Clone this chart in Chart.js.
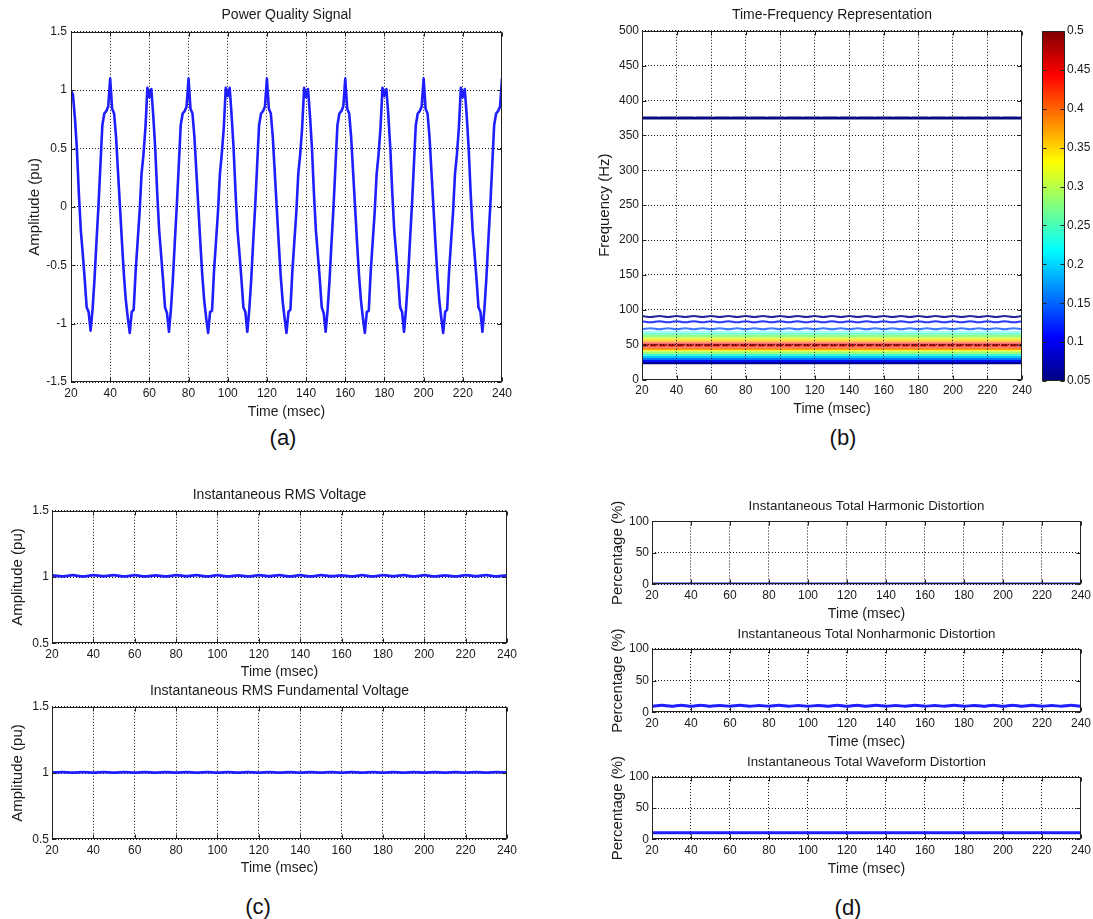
<!DOCTYPE html>
<html>
<head>
<meta charset="utf-8">
<script src="https://cdn.jsdelivr.net/npm/chart.js@4.4.1/dist/chart.umd.min.js"></script>
<style>
  html, body { margin: 0; padding: 0; background: #fff; }
  #fig { position: relative; width: 1093px; height: 919px; overflow: hidden; }
  .box { position: absolute; left: 0; top: 0; width: 500px; height: 400px; }
  .lab { position: absolute; font: 22px 'Liberation Sans', Arial, sans-serif; color: #111; transform: translate(-50%, -50%); }
</style>
</head>
<body>
<div id="fig">
  <div class="box" id="boxA"><canvas id="chartA"></canvas></div>
  <div class="box" id="boxB"><canvas id="chartB"></canvas></div>
  <div class="box" id="boxBar"><canvas id="chartBar"></canvas></div>
  <div class="box" id="boxC1"><canvas id="chartC1"></canvas></div>
  <div class="box" id="boxC2"><canvas id="chartC2"></canvas></div>
  <div class="box" id="boxD1"><canvas id="chartD1"></canvas></div>
  <div class="box" id="boxD2"><canvas id="chartD2"></canvas></div>
  <div class="box" id="boxD3"><canvas id="chartD3"></canvas></div>
  <div class="lab" style="left:283px;top:438px">(a)</div>
  <div class="lab" style="left:843px;top:438px">(b)</div>
  <div class="lab" style="left:258px;top:907px">(c)</div>
  <div class="lab" style="left:848px;top:908px">(d)</div>
</div>
<script>
// ---- data -------------------------------------------------------------

// (a) power quality signal, 1 ms steps
const timeMs = [
  20,21,22,23,24,25,26,27,28,29,30,31,32,33,34,35,36,37,38,39,
  40,41,42,43,44,45,46,47,48,49,50,51,52,53,54,55,56,57,58,59,
  60,61,62,63,64,65,66,67,68,69,70,71,72,73,74,75,76,77,78,79,
  80,81,82,83,84,85,86,87,88,89,90,91,92,93,94,95,96,97,98,99,
  100,101,102,103,104,105,106,107,108,109,110,111,112,113,114,115,116,117,118,119,
  120,121,122,123,124,125,126,127,128,129,130,131,132,133,134,135,136,137,138,139,
  140,141,142,143,144,145,146,147,148,149,150,151,152,153,154,155,156,157,158,159,
  160,161,162,163,164,165,166,167,168,169,170,171,172,173,174,175,176,177,178,179,
  180,181,182,183,184,185,186,187,188,189,190,191,192,193,194,195,196,197,198,199,
  200,201,202,203,204,205,206,207,208,209,210,211,212,213,214,215,216,217,218,219,
  220,221,222,223,224,225,226,227,228,229,230,231,232,233,234,235,236,237,238,239,
  240
];
const signalPu = [
  1.0,0.96,0.76,0.5,0.12,-0.2,-0.4,-0.62,-0.86,-0.9,-1.06,-0.88,-0.62,-0.3,0.0,0.35,0.7,0.8,0.82,0.86,
  1.1,0.84,0.8,0.6,0.3,0.0,-0.3,-0.58,-0.8,-0.95,-1.08,-0.9,-0.88,-0.55,-0.3,-0.05,0.28,0.45,0.68,1.02,
  0.94,1.01,0.78,0.5,0.12,-0.2,-0.41,-0.63,-0.86,-0.91,-1.07,-0.88,-0.62,-0.3,0.01,0.35,0.7,0.8,0.82,0.86,
  1.1,0.84,0.8,0.6,0.3,0.0,-0.3,-0.58,-0.8,-0.95,-1.08,-0.9,-0.89,-0.55,-0.3,-0.05,0.28,0.46,0.68,1.02,
  0.95,1.02,0.78,0.5,0.12,-0.2,-0.4,-0.62,-0.86,-0.9,-1.07,-0.88,-0.62,-0.3,0.0,0.35,0.7,0.8,0.82,0.86,
  1.1,0.84,0.8,0.6,0.3,0.0,-0.3,-0.58,-0.8,-0.95,-1.08,-0.9,-0.88,-0.55,-0.3,-0.05,0.28,0.45,0.68,1.02,
  0.94,1.01,0.78,0.5,0.12,-0.2,-0.41,-0.62,-0.86,-0.91,-1.07,-0.88,-0.62,-0.3,0.0,0.35,0.7,0.8,0.82,0.86,
  1.1,0.84,0.8,0.6,0.3,0.0,-0.3,-0.58,-0.8,-0.95,-1.08,-0.9,-0.89,-0.55,-0.3,-0.05,0.28,0.45,0.68,1.02,
  0.95,1.01,0.78,0.5,0.12,-0.2,-0.4,-0.62,-0.86,-0.9,-1.07,-0.88,-0.62,-0.3,0.0,0.35,0.7,0.8,0.82,0.86,
  1.1,0.84,0.8,0.6,0.3,0.0,-0.3,-0.58,-0.8,-0.95,-1.08,-0.9,-0.88,-0.55,-0.3,-0.05,0.28,0.45,0.68,1.02,
  0.94,1.01,0.78,0.5,0.12,-0.2,-0.4,-0.62,-0.86,-0.9,-1.07,-0.88,-0.62,-0.3,0.0,0.35,0.7,0.8,0.82,0.86,
  1.1
];

// (b)(c)(d) 5 ms steps
const time5 = [20,25,30,35,40,45,50,55,60,65,70,75,80,85,90,95,100,105,110,115,120,125,130,135,140,
  145,150,155,160,165,170,175,180,185,190,195,200,205,210,215,220,225,230,235,240];

// (b) time-frequency: filled band edges (Hz) and contour lines
const bandEdgesHz = [22, 25, 28, 31, 34, 37, 40, 42, 44, 46, 53, 55, 58, 61, 64, 67, 70];
const peakLineHz = [49,49,49,49,49,49,49,49,49,49,49,49,49,49,49,49,49,49,49,49,49,49,49,
  49,49,49,49,49,49,49,49,49,49,49,49,49,49,49,49,49,49,49,49,49,49];
const contour72 = [72,73.4,72,73.4,72,73.4,72,73.4,72,73.4,72,73.4,72,73.4,72,73.4,72,73.4,72,73.4,72,73.4,72,
  73.4,72,73.4,72,73.4,72,73.4,72,73.4,72,73.4,72,73.4,72,73.4,72,73.4,72,73.4,72,73.4,72];
const contour82 = [83.5,82,83.5,82,83.5,82,83.5,82,83.5,82,83.5,82,83.5,82,83.5,82,83.5,82,83.5,82,83.5,82,83.5,
  82,83.5,82,83.5,82,83.5,82,83.5,82,83.5,82,83.5,82,83.5,82,83.5,82,83.5,82,83.5,82,83.5];
const contour91 = [91,89.6,91,89.6,91,89.6,91,89.6,91,89.6,91,89.6,91,89.6,91,89.6,91,89.6,91,89.6,91,89.6,91,
  89.6,91,89.6,91,89.6,91,89.6,91,89.6,91,89.6,91,89.6,91,89.6,91,89.6,91,89.6,91,89.6,91];
const contour375 = [375,375,375,375,375,375,375,375,375,375,375,375,375,375,375,375,375,375,375,375,375,375,375,
  375,375,375,375,375,375,375,375,375,375,375,375,375,375,375,375,375,375,375,375,375,375];
const colorbarRange = [0.05, 0.5];

// (c) instantaneous RMS (pu)
const rmsVoltage = [1.012,1.005,1.014,1.005,1.014,1.006,1.014,1.005,1.014,1.005,1.013,1.005,1.014,1.006,1.014,1.005,
  1.014,1.005,1.013,1.005,1.014,1.006,1.014,1.005,1.014,1.005,1.014,1.006,1.013,1.005,1.014,1.005,1.014,1.006,1.014,
  1.005,1.014,1.005,1.013,1.005,1.014,1.006,1.014,1.005,1.012];
const rmsFundamental = [1.003,1.007,1.003,1.007,1.003,1.007,1.003,1.007,1.003,1.007,1.003,1.007,1.003,1.007,1.003,
  1.007,1.003,1.007,1.003,1.007,1.003,1.007,1.003,1.007,1.003,1.007,1.003,1.007,1.003,1.007,1.003,1.007,1.003,1.007,
  1.003,1.007,1.003,1.007,1.003,1.007,1.003,1.007,1.003,1.007,1.003];

// (d) distortion indices (%)
const thdPct = [0.5,0.5,0.5,0.5,0.5,0.5,0.5,0.5,0.5,0.5,0.5,0.5,0.5,0.5,0.5,0.5,0.5,0.5,0.5,0.5,0.5,0.5,0.5,
  0.5,0.5,0.5,0.5,0.5,0.5,0.5,0.5,0.5,0.5,0.5,0.5,0.5,0.5,0.5,0.5,0.5,0.5,0.5,0.5,0.5,0.5];
const tnhdPct = [9.5,11,9.5,11.2,9.5,11.2,9.5,10.8,9.5,11,9.5,10.8,9.5,11,9.5,10.8,9.5,10.8,9.5,11.2,9.5,11.2,9.5,
  11,9.5,10.8,9.5,11,9.5,10.8,9.5,11,9.5,10.8,9.5,11.2,9.5,11.2,9.5,11,9.5,10.8,9.5,11,9.5];
const twdPct = [10.5,10.5,10.5,10.5,10.5,10.5,10.5,10.5,10.5,10.5,10.5,10.5,10.5,10.5,10.5,10.5,10.5,10.5,10.5,
  10.5,10.5,10.5,10.5,10.5,10.5,10.5,10.5,10.5,10.5,10.5,10.5,10.5,10.5,10.5,10.5,10.5,10.5,10.5,10.5,10.5,10.5,
  10.5,10.5,10.5,10.5];

// ---- styles -----------------------------------------------------------
const INK = '#1a1a1a';
const BLUE = '#1e1eff';
const GRID = '#111';
const bandColors = ['#000090','#0010ff','#0070ff','#00c8ff','#30ffd0','#a0ff60','#ffff00','#ffa000',
  '#ff5000','#ff6868','#ffa030','#ffe040','#d8ff60','#90ff90','#70ffd0','#a8f8ff'];
const jetStops = ['#000080','#0000ff','#00ffff','#ffff00','#ff0000','#800000'];
const jetPos = [0, 0.125, 0.375, 0.625, 0.875, 1];

Chart.defaults.font.family = "'Liberation Sans', Arial, Helvetica, sans-serif";
Chart.defaults.font.size = 12;
Chart.defaults.color = INK;

// MATLAB style box + inward ticks
const framePlugin = {
  id: 'frame',
  afterDraw(chart) {
    const { ctx, chartArea: a } = chart;
    const L = Math.round(a.left) + 0.5, R = Math.round(a.right) - 0.5;
    const T = Math.round(a.top) + 0.5, B = Math.round(a.bottom) - 0.5;
    ctx.save();
    ctx.strokeStyle = '#222';
    ctx.lineWidth = 1;
    ctx.setLineDash([]);
    ctx.strokeRect(L, T, R - L, B - T);
    ctx.beginPath();
    ['x', 'y'].forEach(id => {
      const s = chart.scales[id];
      if (!s || !s.options.display) return;
      s.ticks.forEach(t => {
        const p = Math.round(s.getPixelForValue(t.value)) + 0.5;
        if (id === 'x') {
          ctx.moveTo(p, B); ctx.lineTo(p, B - 4);
          ctx.moveTo(p, T); ctx.lineTo(p, T + 4);
        } else {
          ctx.moveTo(L, p); ctx.lineTo(L + 4, p);
          ctx.moveTo(R, p); ctx.lineTo(R - 4, p);
        }
      });
    });
    ctx.stroke();
    ctx.restore();
  }
};
Chart.register(framePlugin);

const fmt = v => String(+Number(v).toFixed(2));

function xAxis(h, gridZ) {
  return {
    type: 'linear', min: 20, max: 240,
    ticks: { stepSize: 20, padding: 4, maxRotation: 0, autoSkip: false, callback: fmt },
    grid: { color: GRID, drawTicks: false, z: gridZ },
    border: { display: false, dash: [1, 2] },
    title: { display: true, text: 'Time (msec)', font: { size: 14 }, padding: { top: 0, bottom: 0 } },
    afterFit: s => { s.height = h; }
  };
}

function yAxis(p) {
  return {
    min: p.yMin, max: p.yMax,
    ticks: { stepSize: p.yStep, padding: p.tickPad, autoSkip: false, callback: fmt },
    grid: { color: GRID, drawTicks: false, z: p.gridZ },
    border: { display: false, dash: [1, 2] },
    title: { display: true, text: p.yTitle, font: { size: 15 }, padding: { top: 0, bottom: 0 } },
    afterFit: s => { s.width = p.yW; }
  };
}

function fitToBox(chart, box) {
  const wrap = chart.canvas.parentNode;
  for (let i = 0; i < 3; i++) {
    const a = chart.chartArea;
    const w = wrap.clientWidth, h = wrap.clientHeight;
    wrap.style.width = Math.round((box.r - box.l) + a.left + (w - a.right)) + 'px';
    wrap.style.height = Math.round((box.b - box.t) + a.top + (h - a.bottom)) + 'px';
    chart.resize();
  }
  const a = chart.chartArea;
  wrap.style.left = (box.l - a.left) + 'px';
  wrap.style.top = (box.t - a.top) + 'px';
}

function panel(p) {
  const chart = new Chart(document.getElementById(p.canvas), {
    type: 'line',
    data: { labels: p.labels, datasets: p.datasets },
    options: {
      responsive: true, maintainAspectRatio: false, animation: false, events: [],
      layout: { padding: { top: 0, right: 6, bottom: 0, left: 0 } },
      elements: { point: { radius: 0 }, line: { borderJoinStyle: 'round', borderCapStyle: 'round' } },
      plugins: {
        legend: { display: false },
        tooltip: { enabled: false },
        title: {
          display: true, text: p.title, color: INK, fullSize: false,
          font: { size: p.titleSize, weight: 'normal' },
          padding: { top: 0, bottom: p.titleGap }
        }
      },
      scales: { x: xAxis(p.xH, p.gridZ), y: yAxis(p) }
    }
  });
  fitToBox(chart, p.box);
  return chart;
}

function blueLine(values, width) {
  return { data: values, borderColor: BLUE, borderWidth: width, tension: 0.2, fill: false };
}

// ---- (a) --------------------------------------------------------------
panel({
  canvas: 'chartA', box: { l: 71, t: 32, r: 502, b: 382 },
  title: 'Power Quality Signal', titleSize: 14, titleGap: 8,
  labels: timeMs, datasets: [ { data: signalPu, borderColor: BLUE, borderWidth: 2.6, tension: 0, fill: false } ],
  yMin: -1.5, yMax: 1.5, yStep: 0.5, yTitle: 'Amplitude (pu)', yW: 45, tickPad: 4, xH: 39, gridZ: -1
});

// ---- (b) --------------------------------------------------------------
const flat = v => time5.map(t => ({ x: t, y: v }));
const series = arr => time5.map((t, i) => ({ x: t, y: arr[i] }));
const tfSets = [{ data: flat(bandEdgesHz[0]), borderWidth: 0, fill: false, order: 10 }];
for (let i = 1; i < bandEdgesHz.length; i++) {
  tfSets.push({ data: flat(bandEdgesHz[i]), borderWidth: 0, backgroundColor: bandColors[i - 1], fill: '-1', order: 10 });
}
tfSets.push({ data: series(peakLineHz), borderColor: '#a00000', borderWidth: 2, borderDash: [5, 4], fill: false });
tfSets.push({ data: series(contour72), borderColor: '#3c78ff', borderWidth: 2, tension: 0.4, fill: false });
tfSets.push({ data: series(contour82), borderColor: '#2838f0', borderWidth: 2, tension: 0.4, fill: false });
tfSets.push({ data: series(contour91), borderColor: '#24249c', borderWidth: 2, tension: 0.4, fill: false });
tfSets.push({ data: series(contour375), borderColor: '#0a0a80', borderWidth: 3, borderDash: [16, 2], fill: false });

panel({
  canvas: 'chartB', box: { l: 642, t: 31, r: 1022, b: 380 },
  title: 'Time-Frequency Representation', titleSize: 14, titleGap: 7,
  labels: undefined, datasets: tfSets,
  yMin: 0, yMax: 500, yStep: 50, yTitle: 'Frequency (Hz)', yW: 46, tickPad: 3, xH: 38.5, gridZ: 1
});

// colorbar
const barChart = new Chart(document.getElementById('chartBar'), {
  type: 'bar',
  data: {
    labels: ['level'],
    datasets: [{
      data: [colorbarRange],
      barPercentage: 1, categoryPercentage: 1, borderWidth: 0,
      backgroundColor: ctx => {
        const a = ctx.chart.chartArea;
        if (!a) return jetStops[0];
        const g = ctx.chart.ctx.createLinearGradient(0, a.bottom, 0, a.top);
        jetStops.forEach((c, i) => g.addColorStop(jetPos[i], c));
        return g;
      }
    }]
  },
  options: {
    responsive: true, maintainAspectRatio: false, animation: false, events: [],
    layout: { padding: { top: 10, bottom: 10, left: 0, right: 0 } },
    plugins: { legend: { display: false }, tooltip: { enabled: false } },
    scales: {
      x: { display: false },
      y: {
        position: 'right', min: 0.05, max: 0.5,
        ticks: { stepSize: 0.05, padding: 2, autoSkip: false, callback: fmt },
        grid: { display: false, drawTicks: false },
        border: { display: false },
        afterFit: s => { s.width = 30; }
      }
    }
  }
});
fitToBox(barChart, { l: 1042, t: 31, r: 1065, b: 381 });

// ---- (c) --------------------------------------------------------------
panel({
  canvas: 'chartC1', box: { l: 52, t: 511, r: 507, b: 643 },
  title: 'Instantaneous RMS Voltage', titleSize: 14, titleGap: 7,
  labels: time5, datasets: [ blueLine(rmsVoltage, 2.8) ],
  yMin: 0.5, yMax: 1.5, yStep: 0.5, yTitle: 'Amplitude (pu)', yW: 43, tickPad: 3, xH: 37.7, gridZ: -1
});
panel({
  canvas: 'chartC2', box: { l: 52, t: 707, r: 507, b: 839 },
  title: 'Instantaneous RMS Fundamental Voltage', titleSize: 14, titleGap: 7,
  labels: time5, datasets: [ blueLine(rmsFundamental, 2.8) ],
  yMin: 0.5, yMax: 1.5, yStep: 0.5, yTitle: 'Amplitude (pu)', yW: 43, tickPad: 3, xH: 37.7, gridZ: -1
});

// ---- (d) --------------------------------------------------------------
panel({
  canvas: 'chartD1', box: { l: 652, t: 521, r: 1081, b: 584 },
  title: 'Instantaneous Total Harmonic Distortion', titleSize: 13.3, titleGap: 7.5,
  labels: time5, datasets: [ blueLine(thdPct, 3) ],
  yMin: 0, yMax: 100, yStep: 50, yTitle: 'Percentage (%)', yW: 43, tickPad: 3, xH: 38.7, gridZ: -1
});
panel({
  canvas: 'chartD2', box: { l: 652, t: 649, r: 1081, b: 712 },
  title: 'Instantaneous Total Nonharmonic Distortion', titleSize: 13.3, titleGap: 7,
  labels: time5, datasets: [ blueLine(tnhdPct, 3) ],
  yMin: 0, yMax: 100, yStep: 50, yTitle: 'Percentage (%)', yW: 43, tickPad: 3, xH: 38.7, gridZ: -1
});
panel({
  canvas: 'chartD3', box: { l: 652, t: 777, r: 1081, b: 839 },
  title: 'Instantaneous Total Waveform Distortion', titleSize: 13.3, titleGap: 7,
  labels: time5, datasets: [ blueLine(twdPct, 3) ],
  yMin: 0, yMax: 100, yStep: 50, yTitle: 'Percentage (%)', yW: 43, tickPad: 3, xH: 38.7, gridZ: -1
});
</script>
</body>
</html>
